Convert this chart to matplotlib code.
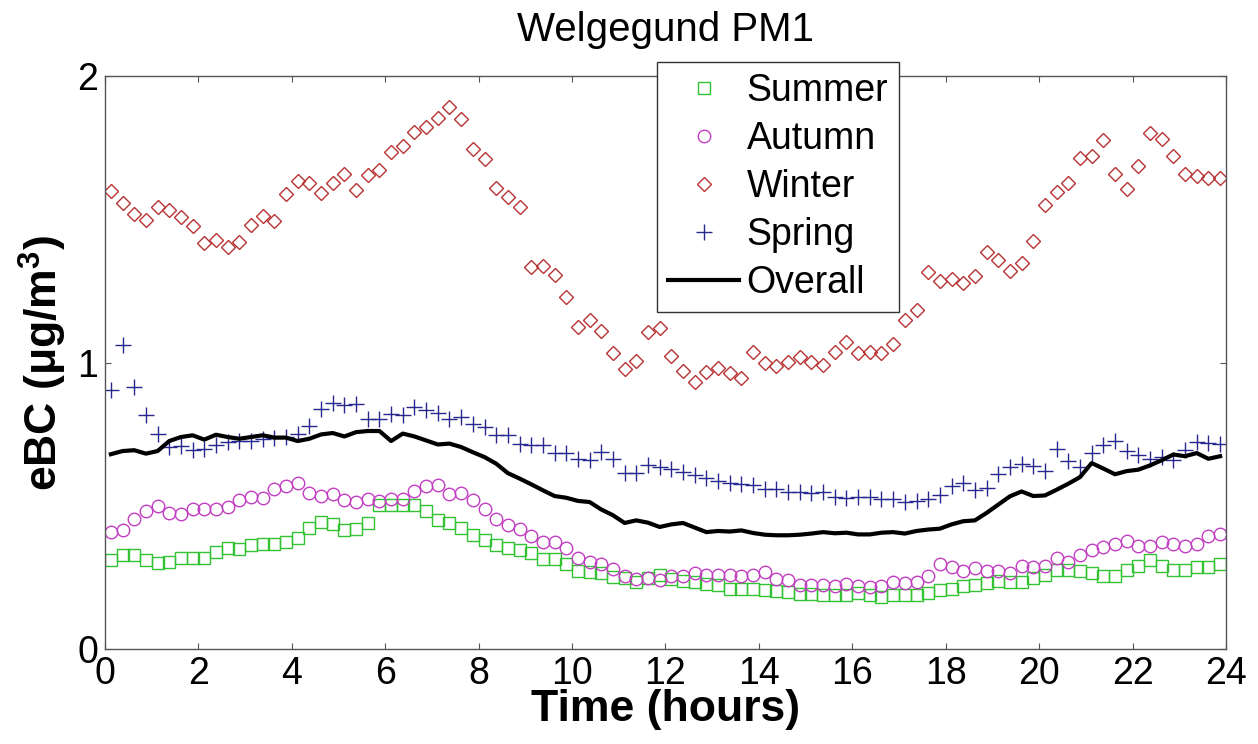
import numpy as np
import matplotlib
matplotlib.use('Agg')
import matplotlib.pyplot as plt

plt.rcParams['font.family'] = ['Liberation Sans', 'DejaVu Sans']
plt.rcParams['mathtext.fontset'] = 'custom'
plt.rcParams['mathtext.rm'] = 'Liberation Sans'
plt.rcParams['mathtext.bf'] = 'Liberation Sans:bold'

# time of day, 15-minute bins (bin centres)
hours = np.arange(96) * 0.25 + 0.125

summer = [0.312, 0.327, 0.327, 0.312, 0.300, 0.304, 0.319, 0.316, 0.319, 0.339,
          0.353, 0.348, 0.362, 0.368, 0.368, 0.373, 0.389, 0.424, 0.443, 0.435,
          0.414, 0.418, 0.440, 0.502, 0.502, 0.502, 0.504, 0.482, 0.449, 0.440,
          0.424, 0.397, 0.382, 0.362, 0.353, 0.344, 0.336, 0.313, 0.313, 0.296,
          0.272, 0.269, 0.265, 0.251, 0.249, 0.234, 0.249, 0.257, 0.246, 0.237,
          0.234, 0.228, 0.222, 0.211, 0.211, 0.209, 0.205, 0.203, 0.199, 0.193,
          0.193, 0.187, 0.187, 0.187, 0.196, 0.190, 0.182, 0.187, 0.190, 0.187,
          0.196, 0.205, 0.211, 0.219, 0.222, 0.232, 0.237, 0.234, 0.234, 0.249,
          0.257, 0.277, 0.277, 0.272, 0.267, 0.254, 0.254, 0.277, 0.289, 0.310,
          0.289, 0.277, 0.277, 0.286, 0.286, 0.296]

autumn = [0.408, 0.417, 0.453, 0.482, 0.499, 0.476, 0.473, 0.488, 0.487, 0.488,
          0.496, 0.519, 0.531, 0.528, 0.560, 0.569, 0.580, 0.545, 0.533, 0.540,
          0.521, 0.513, 0.525, 0.516, 0.523, 0.525, 0.552, 0.569, 0.574, 0.542,
          0.545, 0.521, 0.490, 0.455, 0.432, 0.420, 0.393, 0.373, 0.373, 0.353,
          0.318, 0.302, 0.298, 0.281, 0.254, 0.246, 0.249, 0.240, 0.254, 0.254,
          0.265, 0.260, 0.257, 0.257, 0.254, 0.260, 0.269, 0.246, 0.242, 0.222,
          0.225, 0.225, 0.220, 0.228, 0.220, 0.216, 0.220, 0.234, 0.232, 0.234,
          0.255, 0.296, 0.286, 0.272, 0.284, 0.272, 0.272, 0.267, 0.289, 0.286,
          0.290, 0.318, 0.304, 0.327, 0.344, 0.356, 0.365, 0.377, 0.360, 0.360,
          0.373, 0.365, 0.360, 0.365, 0.393, 0.403]

winter = [1.598, 1.557, 1.520, 1.496, 1.543, 1.534, 1.508, 1.476, 1.418, 1.427,
          1.405, 1.421, 1.479, 1.510, 1.493, 1.589, 1.634, 1.627, 1.593, 1.628,
          1.659, 1.601, 1.656, 1.673, 1.735, 1.755, 1.805, 1.824, 1.855, 1.892,
          1.849, 1.745, 1.709, 1.609, 1.578, 1.543, 1.333, 1.336, 1.304, 1.229,
          1.125, 1.150, 1.110, 1.034, 0.979, 1.005, 1.107, 1.122, 1.023, 0.970,
          0.932, 0.967, 0.982, 0.963, 0.946, 1.037, 0.998, 0.987, 1.002, 1.019,
          1.002, 0.990, 1.038, 1.072, 1.034, 1.037, 1.034, 1.066, 1.147, 1.182,
          1.316, 1.285, 1.293, 1.278, 1.301, 1.386, 1.357, 1.318, 1.347, 1.423,
          1.551, 1.595, 1.627, 1.714, 1.720, 1.776, 1.659, 1.607, 1.685, 1.801,
          1.779, 1.721, 1.659, 1.651, 1.645, 1.645]

spring = [0.903, 1.060, 0.915, 0.816, 0.752, 0.705, 0.707, 0.696, 0.699, 0.711,
          0.723, 0.726, 0.726, 0.734, 0.738, 0.740, 0.749, 0.777, 0.839, 0.859,
          0.851, 0.857, 0.804, 0.802, 0.822, 0.816, 0.845, 0.833, 0.824, 0.804,
          0.810, 0.787, 0.775, 0.746, 0.746, 0.714, 0.711, 0.711, 0.684, 0.684,
          0.664, 0.661, 0.688, 0.664, 0.614, 0.614, 0.641, 0.635, 0.630, 0.618,
          0.606, 0.598, 0.586, 0.581, 0.577, 0.571, 0.560, 0.560, 0.548, 0.548,
          0.545, 0.548, 0.530, 0.528, 0.531, 0.531, 0.523, 0.523, 0.513, 0.517,
          0.523, 0.536, 0.568, 0.580, 0.556, 0.562, 0.612, 0.635, 0.647, 0.638,
          0.621, 0.697, 0.656, 0.635, 0.684, 0.711, 0.726, 0.691, 0.676, 0.664,
          0.670, 0.661, 0.696, 0.723, 0.720, 0.717]

overall = [0.680, 0.691, 0.694, 0.682, 0.691, 0.726, 0.740, 0.746, 0.731, 0.748,
           0.740, 0.734, 0.740, 0.746, 0.738, 0.738, 0.726, 0.734, 0.749, 0.754,
           0.742, 0.757, 0.761, 0.761, 0.726, 0.752, 0.742, 0.728, 0.714, 0.717,
           0.705, 0.687, 0.670, 0.647, 0.614, 0.595, 0.575, 0.554, 0.534, 0.528,
           0.517, 0.513, 0.487, 0.467, 0.440, 0.449, 0.441, 0.426, 0.435, 0.440,
           0.424, 0.408, 0.412, 0.410, 0.414, 0.405, 0.399, 0.397, 0.397, 0.399,
           0.403, 0.408, 0.404, 0.406, 0.400, 0.400, 0.406, 0.408, 0.403, 0.412,
           0.417, 0.420, 0.435, 0.446, 0.449, 0.475, 0.504, 0.533, 0.550, 0.534,
           0.536, 0.556, 0.577, 0.600, 0.649, 0.630, 0.610, 0.621, 0.626, 0.641,
           0.659, 0.679, 0.673, 0.684, 0.664, 0.673]

fig = plt.figure(figsize=(12.58, 7.44), dpi=100)
ax = fig.add_axes([0.0835, 0.1277, 0.891, 0.770])

ax.plot(hours, summer, 's', mfc='none', mec='#33c233', ms=8, mew=1.0, label='Summer')
ax.plot(hours, autumn, 'o', mfc='none', mec='#c23ec2', ms=9, mew=1.0, label='Autumn')
ax.plot(hours, winter, 'D', mfc='none', mec='#b83232', ms=7.5, mew=1.0, label='Winter')
ax.plot(hours, spring, '+', mec='#27278f', ms=11, mew=1.0, label='Spring')
ax.plot(hours, overall, '-', color='black', lw=3, label='Overall')

ax.set_xlim(0, 24)
ax.set_ylim(0, 2)
ax.set_xticks(np.arange(0, 25, 2))
ax.set_yticks([0, 1, 2])
ax.tick_params(direction='in', top=True, right=True, length=4, width=0.8,
               labelsize=27, color='#555555', pad=5)
for s in ax.spines.values():
    s.set_color('#555555')
    s.set_linewidth(1.0)

ax.set_xlabel('Time (hours)', fontsize=32, fontweight='bold', labelpad=-2)
ax.set_ylabel(r'eBC (μg/m$^\mathbf{3}$)', fontsize=32, fontweight='bold', labelpad=6)
ax.set_title('Welgegund PM1', fontsize=29, pad=25)

leg = ax.legend(loc='upper left', bbox_to_anchor=(0.522, 0.917),
                bbox_transform=fig.transFigure, fontsize=27, frameon=True,
                fancybox=False, edgecolor='#333333', framealpha=1,
                handlelength=1.9, handletextpad=0.2, labelspacing=0.32,
                borderpad=0.3, borderaxespad=0)
leg.get_frame().set_linewidth(1.0)

fig.savefig('out.png', dpi=100)
